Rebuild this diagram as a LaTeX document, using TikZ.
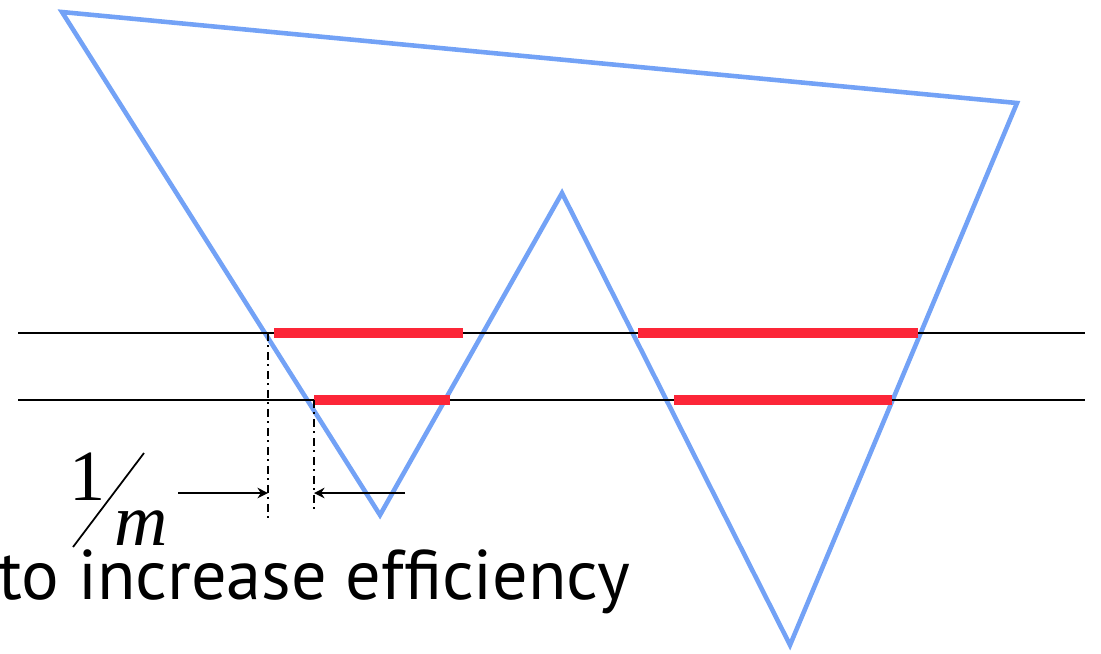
\documentclass[tikz,border=0pt]{standalone}
\usepackage{fontspec}
\newfontfamily\capfont{PT Sans}
\newfontfamily\fracfont{Liberation Serif}
\usetikzlibrary{calc,arrows.meta}
\definecolor{polyblue}{RGB}{115,162,246}
\definecolor{spanred}{RGB}{252,38,56}

\begin{document}
\begin{tikzpicture}[x=0.01cm,y=-0.01cm,>={Stealth[length=3pt,width=3pt]}]
			\useasboundingbox (0,0) rectangle (1101,653);
			\def\ya{333}
			\def\yb{400}
			
			% polygon
			\coordinate (A) at (62,12);
			\coordinate (B) at (380,515);
			\coordinate (C) at (562,193);
			\coordinate (D) at (790,645);
			\coordinate (E) at (1017,103);
			\draw[polyblue,line width=1.3pt] (A)--(B)--(C)--(D)--(E)--cycle;
			
			% scan lines
			\draw[line width=0.6pt] (18,\ya)--(1085,\ya);
			\draw[line width=0.6pt] (18,\yb)--(1085,\yb);
			
			% spans
			\draw[spanred,line width=2.9pt] (274,\ya)--(463,\ya);
			\draw[spanred,line width=2.9pt] (638,\ya)--(918,\ya);
			\draw[spanred,line width=2.9pt] (314,\yb)--(450,\yb);
			\draw[spanred,line width=2.9pt] (674,\yb)--(892,\yb);
			
			% offset marks
			\coordinate (P) at (268,\ya);
			\coordinate (Q) at (314,\yb);
			\coordinate (Pb) at (268,520);
			\coordinate (Qb) at (314,510);
			\draw[line width=0.65pt,dash pattern=on 2.2pt off 1.3pt on 0.6pt off 1.3pt] (P)--(Pb);
			\draw[line width=0.65pt,dash pattern=on 2.2pt off 1.3pt on 0.6pt off 1.3pt] (Q)--(Qb);
			
			\coordinate (L) at (178,493);
			\coordinate (R) at (405,493);
			\draw[->,line width=0.6pt] (L)--(P|-L);
			\draw[->,line width=0.6pt] (R)--(Q|-R);
			
			% 1/m
			\node[font=\fracfont\fontsize{20.5}{20.5}\selectfont,anchor=base,inner sep=0pt] (one) at (88,500) {1};
			\node[font=\fracfont\itshape\fontsize{21}{21}\selectfont,anchor=base,inner sep=0pt] (em) at (141,545) {m};
			\draw[line width=0.5pt] (73,547)--(144,453);
			
			\node[font=\capfont\fontsize{20}{20}\selectfont,anchor=base west,inner sep=0pt] (cap) at (-2,599) {to increase efficiency};
		\end{tikzpicture}
\end{document}
